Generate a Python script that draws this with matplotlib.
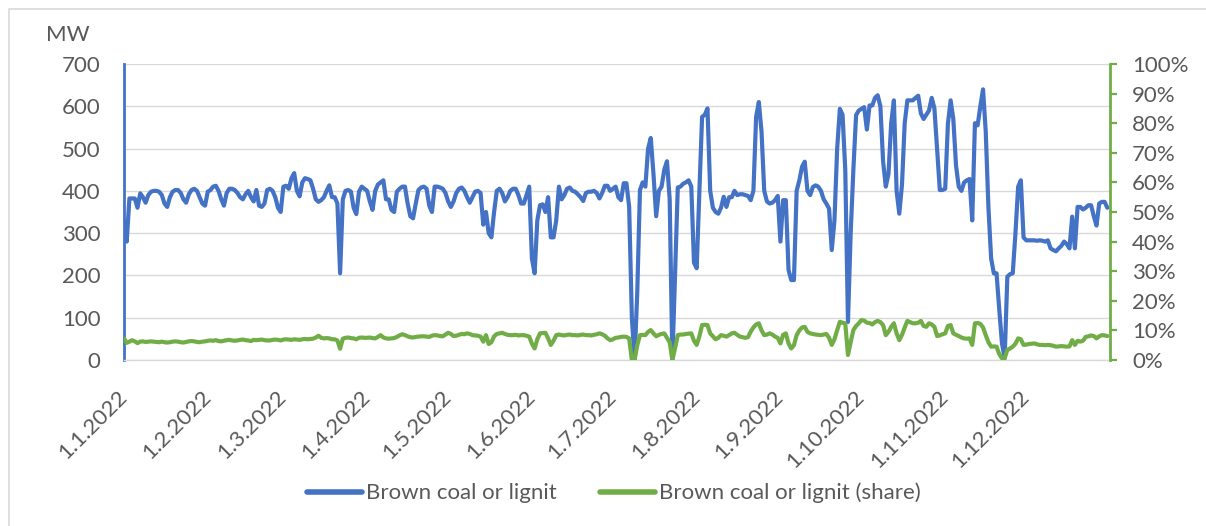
import matplotlib
matplotlib.use("Agg")
import matplotlib.pyplot as plt
from matplotlib.patches import Rectangle
from matplotlib.lines import Line2D
import pandas as pd

plt.rcParams['font.family'] = ['Lato', 'DejaVu Sans']

# Daily brown coal / lignite generation in 2022 (MW), one line per month
lignite_mw = (
    [330, 280, 382, 382, 382, 360, 394, 385, 372, 390, 398, 400, 400, 398, 390, 370,
     362, 385, 398, 402, 402, 395, 380, 372, 392, 402, 405, 400, 385, 370, 365]
    + [398, 402, 410, 412, 400, 380, 365, 395, 405, 405, 402, 395, 385, 380, 392, 400,
       385, 375, 402, 365, 362, 370, 402, 405, 400, 385, 360, 350]
    + [410, 412, 405, 430, 442, 400, 387, 420, 430, 428, 425, 405, 380, 374, 378, 385,
       400, 413, 385, 385, 370, 205, 380, 400, 402, 398, 360, 345, 398, 410, 405]
    + [400, 375, 355, 400, 415, 420, 425, 380, 380, 355, 350, 398, 405, 410, 410, 370,
       340, 335, 370, 402, 408, 410, 405, 365, 350, 410, 410, 408, 405, 395]
    + [375, 362, 375, 395, 405, 408, 400, 385, 372, 385, 398, 400, 395, 320, 350, 300,
       290, 350, 400, 405, 395, 375, 385, 400, 405, 405, 390, 370, 370, 390, 410]
    + [240, 205, 330, 366, 368, 350, 385, 290, 290, 330, 410, 380, 390, 405, 408, 400,
       398, 392, 385, 376, 395, 398, 398, 400, 395, 382, 395, 412, 412, 400]
    + [405, 410, 385, 378, 418, 418, 362, 100, 0, 160, 402, 420, 410, 500, 525, 440,
       340, 400, 410, 450, 470, 380, 0, 200, 408, 410, 417, 420, 425, 410, 230]
    + [217, 400, 575, 580, 595, 400, 360, 350, 346, 360, 386, 362, 385, 385, 400, 390,
       392, 392, 390, 388, 378, 400, 575, 610, 540, 400, 375, 370, 372, 378, 388]
    + [280, 378, 378, 213, 189, 189, 400, 425, 457, 469, 400, 390, 409, 413, 410, 400,
       380, 370, 358, 260, 330, 500, 594, 580, 450, 90, 300, 450, 579, 590]
    + [594, 598, 545, 602, 602, 620, 626, 600, 470, 410, 440, 560, 614, 400, 346, 415,
       560, 614, 614, 614, 620, 625, 583, 570, 580, 590, 620, 595, 500, 402, 402]
    + [405, 559, 614, 570, 460, 410, 400, 420, 425, 428, 330, 560, 555, 600, 640, 540,
       360, 240, 205, 205, 120, 40, 4, 197, 203, 205, 300, 410, 425, 290]
    + [283, 283, 283, 283, 282, 283, 282, 280, 283, 264, 260, 257, 264, 270, 280, 274,
       264, 339, 264, 362, 362, 356, 360, 366, 366, 340, 318, 370, 374, 374, 360]
)

# Share of lignite in total generation (%)
lignite_share = (
    [7.3, 5.8, 6.2, 6.7, 6.3, 5.7, 6.2, 6.3, 6.1, 6.2, 6.3, 6.2, 6.1, 6.0, 6.2, 6.0,
     5.9, 6.0, 6.2, 6.3, 6.2, 6.0, 5.9, 6.1, 6.3, 6.4, 6.3, 6.1, 6.0, 6.2, 6.3]
    + [6.5, 6.6, 6.5, 6.7, 6.4, 6.3, 6.5, 6.7, 6.8, 6.6, 6.5, 6.6, 6.8, 6.9, 6.7, 6.6,
       6.4, 6.8, 6.7, 6.8, 6.9, 6.7, 6.6, 6.6, 6.8, 6.9, 6.8, 6.6]
    + [6.9, 7.0, 6.9, 6.8, 7.0, 6.9, 6.8, 7.0, 7.1, 7.0, 7.1, 7.2, 7.6, 8.2, 7.5, 7.3,
       7.4, 7.3, 7.0, 7.0, 6.6, 3.8, 7.2, 7.5, 7.6, 7.4, 7.3, 7.0, 7.5, 7.6, 7.5]
    + [7.5, 7.6, 7.4, 7.3, 7.8, 8.4, 7.6, 7.3, 7.2, 7.3, 7.4, 7.8, 8.3, 8.7, 8.4, 8.0,
       7.7, 7.6, 7.8, 7.9, 8.0, 8.0, 7.9, 7.8, 8.2, 8.4, 8.3, 8.1, 8.0, 8.6]
    + [9.2, 8.8, 8.1, 8.2, 8.5, 8.8, 8.7, 9.0, 8.8, 8.4, 8.3, 8.2, 7.9, 6.2, 8.4, 5.4,
       6.0, 8.0, 8.8, 9.0, 9.2, 8.8, 8.5, 8.4, 8.4, 8.5, 8.3, 8.4, 8.4, 8.2, 7.9]
    + [5.5, 3.9, 7.0, 9.0, 9.1, 9.2, 7.3, 5.1, 6.5, 8.4, 8.6, 8.4, 8.3, 8.5, 8.6, 8.4,
       8.4, 8.3, 8.5, 8.6, 8.4, 8.4, 8.3, 8.5, 8.7, 9.0, 8.7, 8.2, 7.3, 6.7]
    + [7.0, 7.5, 7.6, 7.8, 7.9, 7.8, 7.3, 0.0, 0.0, 5.0, 8.4, 8.5, 8.4, 9.5, 10.1, 9.0,
       8.0, 8.5, 8.8, 9.0, 7.5, 6.0, 0.0, 4.0, 8.4, 8.6, 8.6, 8.8, 8.9, 9.0, 6.5]
    + [5.1, 8.0, 11.8, 11.9, 11.8, 9.0, 8.0, 7.0, 7.5, 8.4, 8.2, 7.9, 8.4, 9.0, 9.2, 8.5,
       7.9, 7.7, 7.5, 7.7, 9.6, 11.0, 12.0, 12.4, 10.0, 8.4, 8.6, 9.0, 8.6, 7.9, 7.5]
    + [5.6, 8.5, 9.0, 5.6, 3.9, 5.0, 8.4, 10.0, 11.0, 11.2, 9.5, 9.0, 8.8, 8.6, 8.5, 8.4,
       8.6, 8.8, 7.5, 5.1, 7.0, 10.1, 12.9, 12.6, 12.4, 1.7, 6.0, 10.1, 11.5, 12.4]
    + [13.5, 13.3, 12.6, 12.5, 12.0, 12.8, 13.2, 12.8, 11.8, 8.4, 9.5, 11.2, 12.4, 9.0,
       6.7, 8.5, 11.0, 13.2, 12.8, 12.4, 12.4, 12.6, 13.2, 11.5, 11.2, 12.4, 12.0, 11.2,
       8.1, 8.3, 8.7]
    + [9.0, 11.5, 11.8, 9.0, 8.5, 8.1, 7.6, 7.3, 7.2, 7.3, 5.1, 12.4, 12.5, 12.2, 11.0,
       8.4, 6.0, 4.5, 4.6, 4.5, 2.0, 0.6, 0.6, 3.4, 3.9, 4.5, 5.5, 7.3, 7.0, 5.1]
    + [5.2, 5.4, 5.5, 5.6, 5.3, 5.1, 5.1, 5.0, 5.1, 5.0, 4.8, 4.5, 4.6, 4.7, 4.6, 4.5,
       4.6, 6.7, 5.1, 6.5, 6.2, 6.5, 7.8, 8.0, 8.3, 8.1, 7.3, 8.0, 8.4, 8.3, 8.1]
)

month_labels = ["1.1.2022", "1.2.2022", "1.3.2022", "1.4.2022", "1.5.2022", "1.6.2022",
                "1.7.2022", "1.8.2022", "1.9.2022", "1.10.2022", "1.11.2022", "1.12.2022"]
mw_ticks = [0, 100, 200, 300, 400, 500, 600, 700]
share_ticks = [0, 10, 20, 30, 40, 50, 60, 70, 80, 90, 100]

series_names = ["Brown coal or lignit", "Brown coal or lignit (share)"]

BLUE = "#4472C4"
GREEN = "#70AD47"
GRID = "#D9D9D9"
TEXT = "#595959"
FS = 16

days = pd.date_range("2022-01-01", periods=len(lignite_mw), freq="D")
share_days = pd.date_range("2022-01-01", periods=len(lignite_share), freq="D")
month_starts = pd.date_range("2022-01-01", periods=len(month_labels), freq="MS")

W, H = 1206, 526
fig = plt.figure(figsize=(W / 100, H / 100), dpi=100)
ax = fig.add_axes([124 / W, 1 - 360 / H, (1110 - 124) / W, (360 - 64) / H])

ax.plot(days, lignite_mw, color=BLUE, lw=3.0,
        solid_joinstyle="round", solid_capstyle="round", zorder=3)
ax.set_xlim(pd.Timestamp("2022-01-01"), pd.Timestamp("2023-01-01"))
ax.set_ylim(0, 700)
ax.set_yticks(mw_ticks)
ax.grid(axis="y", color=GRID, lw=1.0)
ax.set_axisbelow(True)
for s in ("top", "right"):
    ax.spines[s].set_visible(False)
ax.spines["bottom"].set_color(GRID)
ax.spines["bottom"].set_linewidth(1.0)
ax.spines["left"].set_color(BLUE)
ax.spines["left"].set_linewidth(2.0)
ax.tick_params(axis="y", length=0, pad=17, labelsize=FS, labelcolor=TEXT)

ax.set_xticks(month_starts)
ax.set_xticklabels(month_labels, rotation=45, ha="right", va="center",
                   rotation_mode="anchor")
ax.tick_params(axis="x", length=0, pad=24, labelsize=FS, labelcolor=TEXT)

# share on the secondary axis
ax2 = ax.twinx()
ax2.plot(share_days, lignite_share, color=GREEN, lw=3.0,
         solid_joinstyle="round", solid_capstyle="round")
ax2.set_ylim(0, 100)
ax2.set_yticks(share_ticks)
ax2.set_yticklabels([f"{t}%" for t in share_ticks])
for s in ("top", "left", "bottom"):
    ax2.spines[s].set_visible(False)
ax2.spines["right"].set_color(GREEN)
ax2.spines["right"].set_linewidth(2.0)
ax2.tick_params(axis="y", direction="out", length=5, width=1.6, color=GREEN,
                pad=11, labelsize=FS, labelcolor=TEXT)

fig.text(68 / W, 1 - 35 / H, "MW", ha="center", va="center", fontsize=FS, color=TEXT)

handles = [Line2D([], [], color=BLUE, lw=4, solid_capstyle="round"),
           Line2D([], [], color=GREEN, lw=4, solid_capstyle="round")]
fig.legend(handles, series_names, loc="center", bbox_to_anchor=(614 / W, 1 - 493 / H),
           ncol=2, frameon=False, fontsize=FS, labelcolor=TEXT,
           handlelength=2.45, handletextpad=0.2, columnspacing=1.95)

# chart frame
fig.patches.append(Rectangle((8.5 / W, -0.1), 1.2, 1.1 - 9.5 / H,
                             transform=fig.transFigure, fill=False,
                             edgecolor=GRID, lw=1.2))

fig.savefig("out.png", dpi=100)
